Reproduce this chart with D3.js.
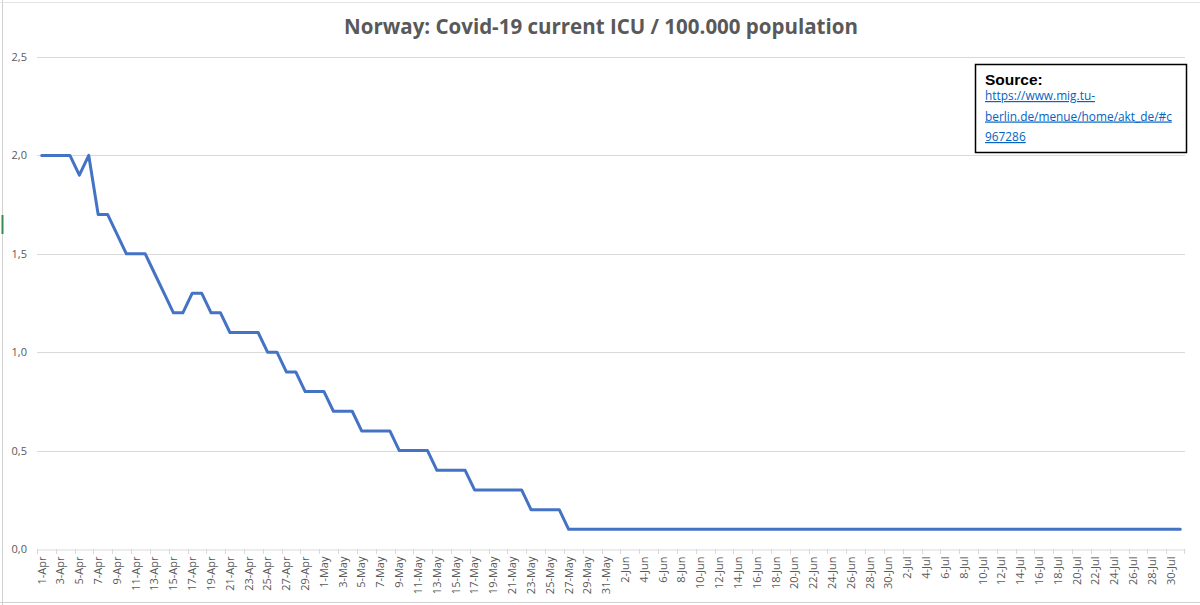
<!DOCTYPE html>
<html><head><meta charset="utf-8">
<script src="https://cdn.jsdelivr.net/npm/d3@7"></script>
<style>body{margin:0;background:#fff;}svg{display:block;font-family:"Open Sans",Lato,sans-serif;}</style>
</head><body><svg id="c" width="1200" height="605"></svg>
<script>
const title = "Norway: Covid-19 current ICU / 100.000 population";
const months = [["Apr",30],["May",31],["Jun",30],["Jul",31]];
const categories = [];
months.forEach(([m,n]) => { for (let d = 1; d <= n; d++) categories.push(d + "-" + m); });
const values = [
 2.0,2.0,2.0,2.0,1.9,2.0,1.7,1.7,1.6,1.5,1.5,1.5,1.4,1.3,1.2,1.2,1.3,1.3,1.2,1.2,1.1,1.1,1.1,1.1,1.0,1.0,0.9,0.9,0.8,0.8,
 0.8,0.7,0.7,0.7,0.6,0.6,0.6,0.6,0.5,0.5,0.5,0.5,0.4,0.4,0.4,0.4,0.3,0.3,0.3,0.3,0.3,0.3,0.2,0.2,0.2,0.2,0.1,0.1,0.1,0.1,0.1,
 0.1,0.1,0.1,0.1,0.1,0.1,0.1,0.1,0.1,0.1,0.1,0.1,0.1,0.1,0.1,0.1,0.1,0.1,0.1,0.1,0.1,0.1,0.1,0.1,0.1,0.1,0.1,0.1,0.1,0.1,
 0.1,0.1,0.1,0.1,0.1,0.1,0.1,0.1,0.1,0.1,0.1,0.1,0.1,0.1,0.1,0.1,0.1,0.1,0.1,0.1,0.1,0.1,0.1,0.1,0.1,0.1,0.1,0.1,0.1,0.1,0.1
];
const yTicks = [0,0.5,1.0,1.5,2.0,2.5];
const tickLabels = categories.filter((c,i) => i % 2 === 0);
const sourceLines = ["https://www.mig.tu-","berlin.de/menue/home/akt_de/#c","967286"];

const svg = d3.select("#c");
const L = 37, R = 1185, T = 57, B = 549;
const x = d3.scaleBand().domain(categories).range([L, R]);
const y = d3.scaleLinear().domain([0, 2.5]).range([B, T]);

// sheet artifacts
svg.append("line").attr("x1",2.5).attr("x2",2.5).attr("y1",0).attr("y2",605).attr("stroke","#d0d0d0");
svg.append("line").attr("x1",0).attr("x2",1200).attr("y1",2.5).attr("y2",2.5).attr("stroke","#e4e4e4");
svg.append("line").attr("x1",0).attr("x2",1200).attr("y1",602.5).attr("y2",602.5).attr("stroke","#d0d0d0");
svg.append("line").attr("x1",2.5).attr("x2",2.5).attr("y1",215).attr("y2",234).attr("stroke","#3a8a4a").attr("stroke-width",2);

svg.append("text").attr("x",601).attr("y",34).attr("text-anchor","middle")
  .attr("font-size",20.5).attr("font-weight","bold").attr("fill","#595959").text(title);

// grid
svg.append("g").selectAll("line").data(yTicks.filter(d=>d>0)).join("line")
  .attr("x1",L).attr("x2",R).attr("y1",d=>Math.round(y(d))+0.5).attr("y2",d=>Math.round(y(d))+0.5)
  .attr("stroke","#d9d9d9").attr("stroke-width",1);

// y labels
svg.append("g").selectAll("text").data(yTicks).join("text")
  .attr("x",27).attr("y",d=>y(d)+4).attr("text-anchor","end")
  .attr("font-size",11).attr("fill","#595959").text(d=>d3.format(".1f")(d).replace(".",","));

// x axis
const xAxis = d3.axisBottom(x).tickValues(tickLabels).tickSize(0).tickPadding(6);
const gx = svg.append("g").attr("transform",`translate(0,${Math.round(B)+0.5})`).call(xAxis);
gx.select(".domain").attr("stroke","#d9d9d9");
gx.selectAll("text").attr("font-size",11).attr("fill","#595959").attr("font-family","'Open Sans',sans-serif")
  .attr("transform","rotate(-90)").attr("text-anchor","end").attr("dy","0.35em").attr("x",-7).attr("y",0);
svg.append("g").selectAll("line").data(categories.filter((c,i)=>i%2===0)).join("line")
  .attr("x1",d=>Math.round(x(d))+0.5).attr("x2",d=>Math.round(x(d))+0.5)
  .attr("y1",B).attr("y2",B+5).attr("stroke","#d9d9d9");
svg.append("line").attr("x1",R-0.5).attr("x2",R-0.5).attr("y1",B).attr("y2",B+5).attr("stroke","#d9d9d9");

// line
const line = d3.line().x((d,i)=>x(categories[i])+x.bandwidth()/2).y(d=>y(d));
svg.append("path").datum(values).attr("d",line).attr("fill","none")
  .attr("stroke","#4472C4").attr("stroke-width",3).attr("stroke-linejoin","round").attr("stroke-linecap","round");

// source box
const bx = 975, by = 64;
svg.append("rect").attr("x",bx+0.5).attr("y",by+0.5).attr("width",211).attr("height",88)
  .attr("fill","#fff").attr("stroke","#000").attr("stroke-width",1.5);
svg.append("text").attr("x",bx+10).attr("y",by+21).attr("font-size",15.5).attr("font-weight","bold")
  .attr("font-family","'Liberation Sans',Arial,sans-serif").attr("fill","#000").text("Source:");
const src = svg.append("g").selectAll("text").data(sourceLines).join("text")
  .attr("x",bx+10).attr("y",(d,i)=>by+36+i*20.5).attr("font-size",13)
  .attr("font-family","'Open Sans',sans-serif")
  .attr("fill","#0563C1").attr("text-decoration","underline").text(d=>d);
// fit the widest line to the width seen in the reference (~187px)
const w = src.nodes()[1].getComputedTextLength();
if (w > 0) src.attr("font-size", 13 * 187 / w);
</script></body></html>
